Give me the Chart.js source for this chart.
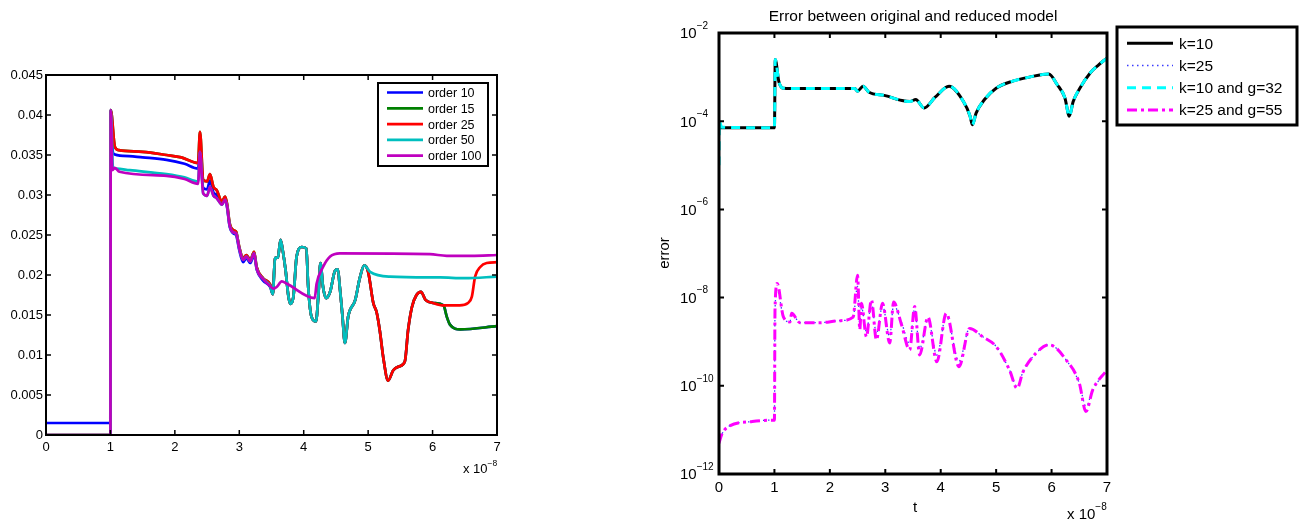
<!DOCTYPE html>
<html>
<head>
<meta charset="utf-8">
<script src="https://cdn.jsdelivr.net/npm/chart.js@4"></script>
<style>
  body { margin: 0; background: #fff; width: 1300px; height: 522px; position: relative; overflow: hidden; }
  canvas { position: absolute; }
  #orderChart { left: 0; top: 60px; }
  #errorChart { left: 640px; top: 0; }
</style>
</head>
<body>
<canvas id="orderChart" width="520" height="430"></canvas>
<canvas id="errorChart" width="660" height="522"></canvas>
<script>
// ---- left panel: response for several reduced orders ----
const xTicks = [0, 1, 2, 3, 4, 5, 6, 7];
const orderTicks = [0, 0.005, 0.01, 0.015, 0.02, 0.025, 0.03, 0.035, 0.04, 0.045];
const orderLabels = ['order 10', 'order 15', 'order 25', 'order 50', 'order 100'];

// start-up plateau (t in units of 1e-8)
const head10T = [0, 0.998, 1.005, 1.04, 1.2, 1.5, 1.87, 2.15, 2.36];
const head10V = [0.0015, 0.0015, 0.0406, 0.0352, 0.0349, 0.0347, 0.0344, 0.0339, 0.0333];
const head25T = [0, 1.0, 1.005, 1.07, 1.13, 1.5, 1.87, 2.1, 2.36];
const head25V = [0, 0, 0.0406, 0.036, 0.0356, 0.0354, 0.035, 0.0347, 0.034];
const head50T = [0, 1.0, 1.005, 1.04, 1.09, 1.3, 1.87, 2.15, 2.36];
const head50V = [0, 0, 0.0406, 0.0335, 0.0333, 0.0331, 0.0326, 0.0322, 0.0317];
const head100T = [0, 1.0, 1.005, 1.03, 1.07, 1.14, 1.87, 2.15, 2.36];
const head100V = [0, 0, 0.0406, 0.0331, 0.0334, 0.0329, 0.0324, 0.032, 0.0314];

// descent after the second switch
const descT = [2.39, 2.44, 2.5, 2.545, 2.6, 2.65, 2.73, 2.78, 2.81, 2.85, 2.91, 2.95, 3.0, 3.06, 3.11, 3.17, 3.23, 3.27, 3.37, 3.48];
const desc10V = [0.0355, 0.0309, 0.0307, 0.0318, 0.0303, 0.03, 0.0288, 0.0295, 0.0285, 0.0261, 0.0252, 0.025, 0.0231, 0.0216, 0.0221, 0.0215, 0.0225, 0.0207, 0.0193, 0.0185];
const desc25V = [0.0379, 0.0319, 0.0317, 0.0326, 0.031, 0.0306, 0.0292, 0.0298, 0.0289, 0.0265, 0.0256, 0.0254, 0.0235, 0.0221, 0.0225, 0.0219, 0.0229, 0.021, 0.0196, 0.0188];
const desc100V = [0.0354, 0.0302, 0.0299, 0.031, 0.0299, 0.0296, 0.0288, 0.0294, 0.0286, 0.0262, 0.0253, 0.0252, 0.0233, 0.0219, 0.0223, 0.0217, 0.0227, 0.0208, 0.0195, 0.0186];

// oscillating window shared by orders 10, 15, 25, 50
const oscT = [3.52, 3.555, 3.6, 3.64, 3.68, 3.72, 3.76, 3.79, 3.84, 3.89, 3.97, 4.04, 4.07, 4.12, 4.19, 4.23, 4.26, 4.3, 4.35, 4.41, 4.49, 4.53, 4.56, 4.6, 4.64, 4.69, 4.8, 4.87, 4.94];
const oscV = [0.0176, 0.0221, 0.0222, 0.0244, 0.0228, 0.0205, 0.0175, 0.0164, 0.0173, 0.0223, 0.0235, 0.0233, 0.0185, 0.0148, 0.0142, 0.0178, 0.0215, 0.0185, 0.0171, 0.0179, 0.0206, 0.0207, 0.0185, 0.015, 0.0115, 0.0148, 0.0169, 0.0196, 0.0212];

// deep dip of orders 10/15/25
const dropT = [5.0, 5.08, 5.13, 5.18, 5.24, 5.31, 5.39, 5.49, 5.57, 5.62, 5.68, 5.75, 5.82, 5.89, 6.01, 6.17];
const dropV = [0.0204, 0.0165, 0.0154, 0.0131, 0.0094, 0.0068, 0.0081, 0.0086, 0.0092, 0.0131, 0.016, 0.0175, 0.0179, 0.0169, 0.0165, 0.0162];

const end25T = [6.42, 6.55, 6.61, 6.66, 6.74, 6.84, 7.0];
const end25V = [0.0162, 0.0165, 0.0173, 0.0198, 0.021, 0.0215, 0.0216];
const end15T = [6.22, 6.27, 6.43, 7.0];
const end15V = [0.0148, 0.0138, 0.0132, 0.0136];
const end50T = [5.03, 5.34, 6.12, 6.5, 7.0];
const end50V = [0.0204, 0.0198, 0.0197, 0.0196, 0.0198];
const end100T = [3.53, 3.58, 3.66, 3.74, 4.17, 4.2, 4.3, 4.41, 4.56, 5.96, 6.22, 6.6, 7.0];
const end100V = [0.0183, 0.0185, 0.0192, 0.0189, 0.0171, 0.0189, 0.021, 0.0223, 0.0227, 0.0226, 0.0224, 0.0224, 0.0225];

// ---- right panel: error between original and reduced model ----
const errTicks = [1e-12, 1e-10, 1e-8, 1e-6, 1e-4, 1e-2];
const errLabels = ['k=10', 'k=25', 'k=10 and g=32', 'k=25 and g=55'];

const k10T = [0, 0.98, 1.0, 1.015, 1.08, 1.16, 1.5, 2.0, 2.45, 2.5, 2.6, 2.7, 3.0, 3.3, 3.45, 3.55, 3.7, 3.9, 4.15, 4.41, 4.53, 4.57, 4.64, 4.79, 5.0, 5.3, 5.6, 5.95, 6.1, 6.24, 6.32, 6.39, 6.51, 6.7, 6.85, 7.0];
const k10V = [7.1e-5, 7.1e-5, 7.1e-5, 2.5e-3, 7.9e-4, 5.6e-4, 5.5e-4, 5.5e-4, 5.5e-4, 4.8e-4, 6.2e-4, 4.6e-4, 3.8e-4, 2.95e-4, 2.8e-4, 3.1e-4, 2.0e-4, 3.5e-4, 6.2e-4, 2.8e-4, 1.3e-4, 8.3e-5, 1.55e-4, 3.1e-4, 5.6e-4, 8.1e-4, 1.0e-3, 1.18e-3, 6.8e-4, 3.4e-4, 1.3e-4, 2.8e-4, 5.6e-4, 1.26e-3, 1.9e-3, 2.7e-3];
const g32StartT = [0, 0.006, 0.05];
const g32StartV = [1.0e-5, 1.0e-4, 7.3e-5];

const k25T = [0, 0.05, 0.16, 0.6, 0.93, 1.0, 1.01, 1.05, 1.16, 1.28, 1.31, 1.46, 1.82, 2.18, 2.42, 2.5, 2.54, 2.57, 2.66, 2.75, 2.84, 2.95, 3.08, 3.15, 3.29, 3.44, 3.53, 3.62, 3.77, 3.93, 4.1, 4.33, 4.52, 4.76, 5.0, 5.24, 5.38, 5.48, 5.72, 5.96, 6.26, 6.5, 6.62, 6.74, 7.0];
const k25V = [5.0e-12, 7.9e-12, 1.17e-11, 1.55e-11, 1.66e-11, 1.66e-11, 5.0e-9, 1.5e-8, 3.7e-9, 2.8e-9, 4.4e-9, 2.7e-9, 2.7e-9, 3.0e-9, 3.6e-9, 1.8e-8, 2.4e-9, 6.0e-9, 1.7e-9, 7.5e-9, 1.5e-9, 6.5e-9, 1.3e-9, 6.8e-9, 2.8e-9, 9.0e-10, 5.5e-9, 7.0e-10, 3.2e-9, 5.0e-10, 3.9e-9, 3.6e-10, 2.0e-9, 1.29e-9, 7.8e-10, 2.3e-10, 9.5e-11, 2.0e-10, 5.5e-10, 8.5e-10, 3.9e-10, 1.15e-10, 3.4e-11, 7.9e-11, 2.3e-10];
const g55V = [5.0e-12, 7.9e-12, 1.17e-11, 1.55e-11, 1.66e-11, 1.66e-11, 5.0e-9, 2.1e-8, 3.7e-9, 2.8e-9, 4.4e-9, 2.7e-9, 2.7e-9, 3.0e-9, 3.6e-9, 3.2e-8, 1.86e-9, 7.4e-9, 1.29e-9, 8.9e-9, 1.1e-9, 7.4e-9, 9.3e-10, 7.9e-9, 2.5e-9, 6.5e-10, 6.3e-9, 5.0e-10, 3.6e-9, 3.5e-10, 4.4e-9, 2.7e-10, 2.0e-9, 1.29e-9, 7.8e-10, 2.3e-10, 8.7e-11, 2.0e-10, 5.5e-10, 8.5e-10, 3.9e-10, 1.15e-10, 2.6e-11, 7.9e-11, 2.3e-10];

const FONT = "'Liberation Sans', Arial, Helvetica, sans-serif";

function pts(ts, vs) {
    return ts.map((t, i) => ({ x: t, y: vs[i] }));
}

// "10" with a raised exponent, MATLAB style
function drawPow(ctx, base, exp, x, y, size, expSize, rise) {
    ctx.textAlign = 'left';
    ctx.textBaseline = 'alphabetic';
    ctx.font = size + 'px ' + FONT;
    const bw = ctx.measureText(base).width;
    ctx.fillText(base, x, y);
    ctx.font = expSize + 'px ' + FONT;
    ctx.fillText(exp, x + bw, y - rise);
}

// frame, inward ticks on all four sides, legend box, extra labels
const matlabAxes = {
    id: 'matlabAxes',
    afterDatasetsDraw(chart, args, o) {
        const { ctx, chartArea: a } = chart;
        const sx = chart.scales.x, sy = chart.scales.y;
        ctx.save();
        ctx.strokeStyle = '#000';
        ctx.lineWidth = o.tickWidth;
        ctx.beginPath();
        sx.ticks.forEach(t => {
            const x = sx.getPixelForValue(t.value);
            ctx.moveTo(x, a.bottom); ctx.lineTo(x, a.bottom - o.tickLen);
            ctx.moveTo(x, a.top); ctx.lineTo(x, a.top + o.tickLen);
        });
        sy.ticks.forEach(t => {
            const y = sy.getPixelForValue(t.value);
            ctx.moveTo(a.left, y); ctx.lineTo(a.left + o.tickLen, y);
            ctx.moveTo(a.right, y); ctx.lineTo(a.right - o.tickLen, y);
        });
        ctx.stroke();
        ctx.lineWidth = o.frameWidth;
        ctx.strokeRect(a.left, a.top, a.right - a.left, a.bottom - a.top);
        ctx.restore();
    },
    afterDraw(chart, args, o) {
        const ctx = chart.ctx;
        const lg = o.legend;
        ctx.save();
        // legend
        ctx.fillStyle = '#fff';
        ctx.fillRect(lg.x, lg.y, lg.w, lg.h);
        ctx.strokeStyle = '#000';
        ctx.lineWidth = lg.border;
        ctx.strokeRect(lg.x, lg.y, lg.w, lg.h);
        chart.data.datasets.forEach((ds, i) => {
            const y = lg.rowY + i * lg.rowStep;
            ctx.save();
            ctx.strokeStyle = ds.borderColor;
            ctx.lineWidth = ds.borderWidth;
            ctx.setLineDash(ds.borderDash || []);
            ctx.beginPath();
            ctx.moveTo(lg.lineX, y);
            ctx.lineTo(lg.lineX + lg.lineLen, y);
            ctx.stroke();
            ctx.restore();
            ctx.fillStyle = '#000';
            ctx.font = lg.font + 'px ' + FONT;
            ctx.textAlign = 'left';
            ctx.textBaseline = 'middle';
            ctx.fillText(ds.label, lg.textX, y + 1);
        });
        ctx.restore();
        ctx.save();
        ctx.fillStyle = '#000';
        if (o.extra) o.extra(ctx, chart);
        ctx.restore();
    }
};

function fixWidth(w) { return scale => { scale.width = w; }; }
function fixHeight(h) { return scale => { scale.height = h; }; }

// ---------- left chart ----------
const leftColors = ['#0000ff', '#008000', '#ff0000', '#00bfbf', '#bf00bf'];
const leftSeries = [
    pts([...head10T, ...descT, ...oscT, ...dropT, ...end15T], [...head10V, ...desc10V, ...oscV, ...dropV, ...end15V]),
    pts([...head25T, ...descT, ...oscT, ...dropT, ...end15T], [...head25V, ...desc25V, ...oscV, ...dropV, ...end15V]),
    pts([...head25T, ...descT, ...oscT, ...dropT, ...end25T], [...head25V, ...desc25V, ...oscV, ...dropV, ...end25V]),
    pts([...head50T, ...descT, ...oscT, ...end50T], [...head50V, ...desc100V, ...oscV, ...end50V]),
    pts([...head100T, ...descT, ...end100T], [...head100V, ...desc100V, ...end100V])
];

new Chart(document.getElementById('orderChart'), {
    type: 'line',
    data: {
        datasets: leftSeries.map((d, i) => ({
            label: orderLabels[i],
            data: d,
            borderColor: leftColors[i],
            borderWidth: 2.7,
            pointRadius: 0,
            cubicInterpolationMode: 'monotone',
            order: leftSeries.length - i
        }))
    },
    options: {
        responsive: false,
        animation: false,
        layout: { padding: { top: 15, right: 23, left: 0, bottom: 0 } },
        plugins: {
            legend: { display: false },
            tooltip: { enabled: false },
            matlabAxes: {
                tickLen: 5, tickWidth: 1.5, frameWidth: 2,
                legend: { x: 378, y: 23, w: 110, h: 83, border: 2, rowY: 32.5, rowStep: 15.8, lineX: 387, lineLen: 36, textX: 428, font: 12.5 },
                extra(ctx) {
                    drawPow(ctx, 'x 10', '\u22128', 463, 413, 13, 8.5, 7);
                }
            }
        },
        scales: {
            x: {
                type: 'linear', min: 0, max: 7,
                afterBuildTicks: s => { s.ticks = xTicks.map(v => ({ value: v })); },
                afterFit: fixHeight(55),
                grid: { display: false, drawTicks: false },
                border: { display: false },
                ticks: { color: '#000', padding: 5, font: { family: FONT, size: 13 }, maxRotation: 0 }
            },
            y: {
                type: 'linear', min: 0, max: 0.045,
                afterBuildTicks: s => { s.ticks = orderTicks.map(v => ({ value: v })); },
                afterFit: fixWidth(46),
                grid: { display: false, drawTicks: false },
                border: { display: false },
                ticks: { color: '#000', padding: 3, font: { family: FONT, size: 13 }, callback: v => String(+v.toFixed(3)) }
            }
        }
    },
    plugins: [matlabAxes]
});

// ---------- right chart ----------
const rightSeries = [
    pts(k10T, k10V),
    pts(k25T, k25V),
    pts([...g32StartT, ...k10T.slice(1)], [...g32StartV, ...k10V.slice(1)]),
    pts(k25T, g55V)
];
const rightStyles = [
    { borderColor: '#000000', borderWidth: 3, borderDash: [] },
    { borderColor: '#3a3aff', borderWidth: 1.3, borderDash: [1.5, 3.5] },
    { borderColor: '#00ffff', borderWidth: 3, borderDash: [9, 6] },
    { borderColor: '#ff00ff', borderWidth: 3, borderDash: [10, 4, 3, 4] }
];

new Chart(document.getElementById('errorChart'), {
    type: 'line',
    data: {
        datasets: rightSeries.map((d, i) => Object.assign({
            label: errLabels[i],
            data: d,
            pointRadius: 0,
            cubicInterpolationMode: 'monotone',
            order: rightSeries.length - i
        }, rightStyles[i]))
    },
    options: {
        responsive: false,
        animation: false,
        layout: { padding: { top: 33, right: 193, left: 0, bottom: 0 } },
        plugins: {
            legend: { display: false },
            tooltip: { enabled: false },
            matlabAxes: {
                tickLen: 5, tickWidth: 2, frameWidth: 3,
                legend: { x: 477, y: 27, w: 180, h: 98, border: 3, rowY: 43.3, rowStep: 22.2, lineX: 487, lineLen: 46, textX: 539, font: 15.5 },
                extra(ctx, chart) {
                    const sy = chart.scales.y;
                    sy.ticks.forEach(t => {
                        const y = sy.getPixelForValue(t.value);
                        const e = Math.round(Math.log10(t.value));
                        drawPow(ctx, '10', '\u2212' + Math.abs(e), 40, y + 5.3, 15, 10, 9.5);
                    });
                    ctx.font = '15.5px ' + FONT;
                    ctx.textAlign = 'center';
                    ctx.textBaseline = 'alphabetic';
                    ctx.fillText('Error between original and reduced model', 273, 21);
                    ctx.font = '15px ' + FONT;
                    ctx.fillText('t', 275, 512);
                    ctx.save();
                    ctx.translate(25, 253);
                    ctx.rotate(-Math.PI / 2);
                    ctx.textBaseline = 'middle';
                    ctx.fillText('error', 0, 0);
                    ctx.restore();
                    drawPow(ctx, 'x 10', '\u22128', 427, 519, 15, 10, 9);
                }
            }
        },
        scales: {
            x: {
                type: 'linear', min: 0, max: 7,
                afterBuildTicks: s => { s.ticks = xTicks.map(v => ({ value: v })); },
                afterFit: fixHeight(48),
                grid: { display: false, drawTicks: false },
                border: { display: false },
                ticks: { color: '#000', padding: 5, font: { family: FONT, size: 15 }, maxRotation: 0 }
            },
            y: {
                type: 'logarithmic', min: 1e-12, max: 1e-2,
                afterBuildTicks: s => { s.ticks = errTicks.map(v => ({ value: v })); },
                afterFit: fixWidth(79),
                grid: { display: false, drawTicks: false },
                border: { display: false },
                ticks: { display: false }
            }
        }
    },
    plugins: [matlabAxes]
});
</script>
</body>
</html>
